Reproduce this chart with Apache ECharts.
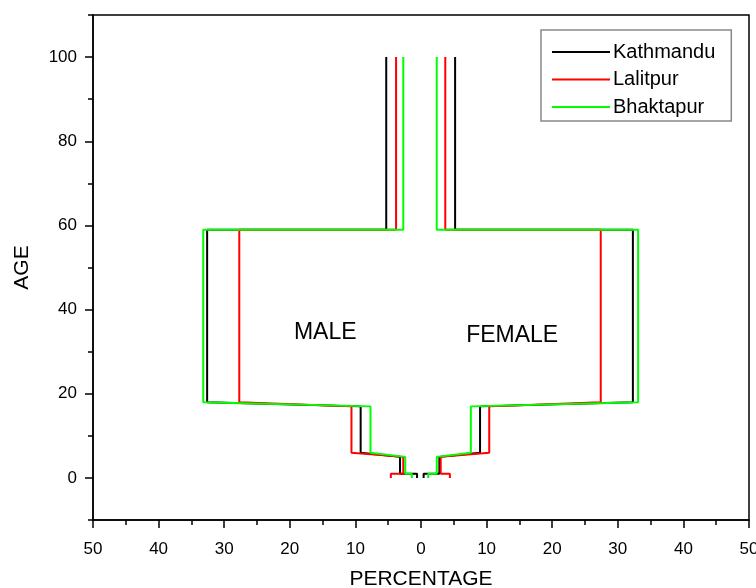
<!DOCTYPE html>
<html>
<head>
<meta charset="utf-8">
<script src="https://cdn.jsdelivr.net/npm/echarts@6/dist/echarts.min.js"></script>
<style>
  html, body { margin: 0; padding: 0; background: #fff; }
  #chart { width: 756px; height: 588px; }
</style>
</head>
<body>
<div id="chart"></div>
<script>
// age at each corner of a step line, two corners per age band
const ageSteps = [0, 1, 1, 5, 6, 17, 18, 59, 59, 100];
// bands: <1, 1-5, 6-17, 18-59, 60+  (percent of population)
const kathmanduMale = [0.6, 3.2, 9.2, 32.6, 5.3];
const kathmanduFemale = [0.4, 2.8, 9.0, 32.3, 5.2];
const lalitpurMale = [4.6, 2.7, 10.6, 27.7, 3.8];
const lalitpurFemale = [4.4, 3.0, 10.4, 27.4, 3.7];
const bhaktapurMale = [1.4, 2.4, 7.7, 33.2, 2.7];
const bhaktapurFemale = [1.1, 2.4, 7.6, 33.1, 2.4];

const cities = ['Kathmandu', 'Lalitpur', 'Bhaktapur'];
const colors = ['#000000', '#ff0000', '#00ff00'];
const maleData = [kathmanduMale, lalitpurMale, bhaktapurMale];
const femaleData = [kathmanduFemale, lalitpurFemale, bhaktapurFemale];

const yLabels = [0, 20, 40, 60, 80, 100];
const yMinor = [-10, 10, 30, 50, 70, 90, 110];
const sideLabels = [[-14.6, 34.4, 'MALE'], [13.9, 33.7, 'FEMALE']];

const font = "'Liberation Sans', Arial, sans-serif";

function steps(vals, sign) {
  return ageSteps.map((a, k) => [sign * vals[Math.floor(k / 2)], a]);
}

let series = [];
cities.forEach((c, i) => {
  [[maleData[i], -1], [femaleData[i], 1]].forEach(([vals, s]) => {
    series.push({
      name: c,
      type: 'line',
      symbol: 'none',
      data: steps(vals, s),
      lineStyle: { color: colors[i], width: 2 },
      itemStyle: { color: colors[i] },
      z: 2 + i
    });
  });
});
series.push({
  name: 'labels',
  type: 'scatter',
  symbolSize: 0,
  silent: true,
  data: sideLabels,
  itemStyle: { color: '#000', opacity: 1 },
  label: {
    show: true,
    position: 'inside',
    formatter: p => p.data[2],
    color: '#000',
    opacity: 1,
    textBorderWidth: 0,
    fontSize: 23,
    fontFamily: font
  }
});

let option = {
  animation: false,
  textStyle: { fontFamily: font },
  grid: {
    left: 93, right: 7, top: 15, bottom: 68,
    outerBoundsMode: 'none',
    show: true,
    borderColor: '#000',
    borderWidth: 1.5
  },
  legend: {
    data: cities,
    orient: 'vertical',
    left: 541,
    top: 30,
    padding: [12, 16, 4, 11],
    icon: 'rect',
    itemWidth: 58,
    itemHeight: 2,
    itemGap: 7.5,
    borderColor: '#888',
    borderWidth: 1.5,
    textStyle: { fontSize: 20, lineHeight: 20, color: '#000', fontFamily: font, padding: [0, 0, 0, -2] }
  },
  xAxis: {
    type: 'value',
    min: -50,
    max: 50,
    interval: 10,
    name: 'PERCENTAGE',
    nameLocation: 'middle',
    nameGap: 49,
    nameTextStyle: { fontSize: 21, color: '#000' },
    axisLine: { onZero: false, lineStyle: { color: '#000', width: 1.5 } },
    axisTick: { length: 8, lineStyle: { color: '#000', width: 1.5 } },
    minorTick: { show: true, splitNumber: 2, length: 5, lineStyle: { color: '#000', width: 1.5 } },
    axisLabel: {
      formatter: v => Math.abs(v),
      fontSize: 17,
      color: '#000',
      margin: 21
    },
    splitLine: { show: false }
  },
  yAxis: [{
    type: 'value',
    min: -10,
    max: 110,
    position: 'left',
    name: 'AGE',
    nameLocation: 'middle',
    nameGap: 60,
    nameTextStyle: { fontSize: 21, color: '#000' },
    axisLine: { onZero: false, lineStyle: { color: '#000', width: 1.5 } },
    axisTick: { customValues: yLabels, length: 8, lineStyle: { color: '#000', width: 1.5 } },
    axisLabel: { customValues: yLabels, fontSize: 17, color: '#000', margin: 16 },
    splitLine: { show: false }
  }, {
    type: 'value',
    min: -10,
    max: 110,
    position: 'left',
    axisLine: { show: false, onZero: false },
    axisTick: { customValues: yMinor, length: 5, lineStyle: { color: '#000', width: 1.5 } },
    axisLabel: { show: false },
    splitLine: { show: false }
  }],
  series: series
};

let chart = echarts.init(document.getElementById('chart'));
chart.setOption(option);
</script>
</body>
</html>
